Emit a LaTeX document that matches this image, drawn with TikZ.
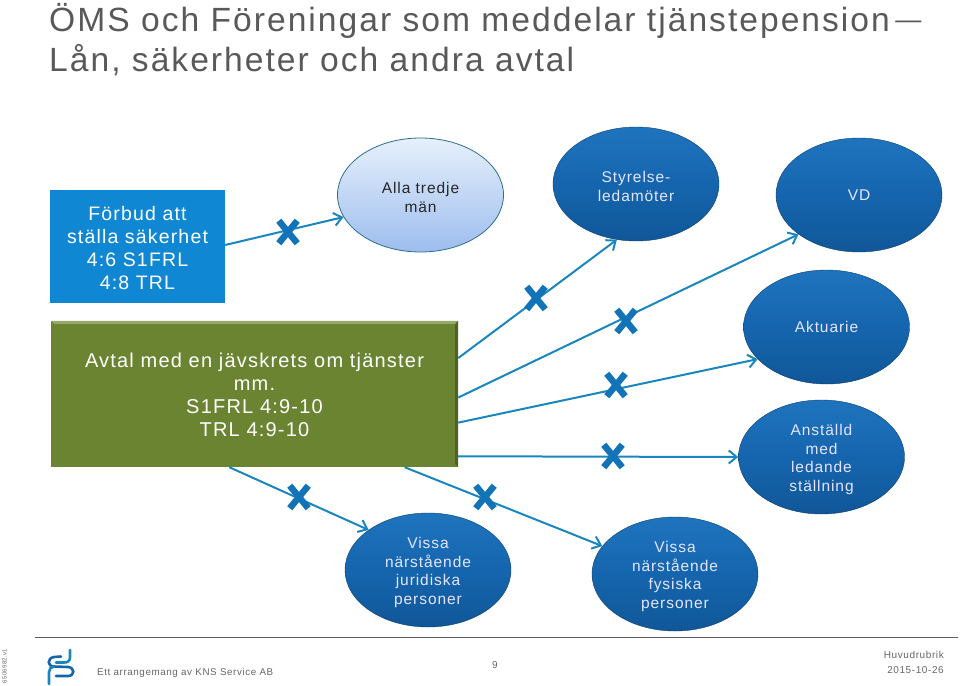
\documentclass[tikz,border=0pt]{standalone}
\usepackage{fontspec}
\setmainfont[LetterSpace=6]{Liberation Sans}
\usetikzlibrary{arrows.meta,shapes.geometric,shapes.misc}
\definecolor{linkblue}{HTML}{1A86BE}
\definecolor{crossblue}{HTML}{1273B8}
\definecolor{darkblue}{HTML}{1565AE}
\definecolor{lightblue}{HTML}{1F74BE}
\definecolor{deepblue}{HTML}{105798}
\definecolor{rimblue}{HTML}{0E3F70}
\definecolor{paletop}{HTML}{E6F0FB}
\definecolor{palebot}{HTML}{9DBDEE}
\definecolor{palerim}{HTML}{2C6E8F}
\definecolor{rectblue}{HTML}{0F87D2}
\definecolor{oliveg}{HTML}{6A8432}
\definecolor{footgray}{HTML}{666666}
\newcommand{\ovalgap}{\rule{0pt}{16pt}}
\newcommand{\boxgap}{\rule{0pt}{17pt}}
\tikzset{
  darkoval/.style={ellipse,draw=rimblue,top color=lightblue,bottom color=deepblue,middle color=darkblue,minimum width=166pt,minimum height=114pt,inner sep=0pt,align=center,text=white!90!blue,font=\fontsize{15.5}{18.5}\selectfont},
  paleoval/.style={ellipse,draw=palerim,line width=.8pt,top color=paletop,bottom color=palebot,minimum width=166pt,minimum height=114pt,inner sep=0pt,align=center,text=black!85,font=\fontsize{15.5}{18.5}\selectfont},
  link/.style={draw=linkblue,line width=2pt,-{Straight Barb[length=8pt,width=13pt]}},
  xmark/.style={cross out,draw=crossblue,line width=6.5pt,minimum width=12pt,minimum height=16pt,inner sep=0pt},
  foot/.style={text=footgray,font=\fontsize{10}{14.5}\selectfont,inner sep=0pt},
}
\begin{document}
\begin{tikzpicture}[x=1pt,y=-1pt]
\useasboundingbox (0,0) rectangle (960,685);
\node[anchor=north west,align=left,inner sep=0pt,text=black!65,font=\fontsize{33.6}{40}\selectfont] (title) at (49,3) {ÖMS och Föreningar som meddelar tjänstepension \kern-6pt\raisebox{3pt}{\fontsize{26}{40}\selectfont ---}\\Lån, säkerheter och andra avtal};
% boxes
\node[fill=rectblue,minimum width=175pt,minimum height=113pt,inner sep=0pt,align=center,text=white,font=\fontsize{19.5}{23}\selectfont] (forbud) at (137.5,246.5) {\boxgap Förbud att\\ställa säkerhet\\4:6 S1FRL\\4:8 TRL};
\node[fill=oliveg,minimum width=407pt,minimum height=146pt,inner sep=0pt,align=center,text=white,font=\fontsize{20}{23}\selectfont] (avtal) at (254.5,394) {\boxgap Avtal med en jävskrets om tjänster\\mm.\\S1FRL 4:9-10\\TRL 4:9-10};
\fill[oliveg!70!white] (avtal.north west) -- (avtal.north east) -- ++(-3,3) -- ++(-401,0) -- cycle;
\fill[oliveg!75!black] (avtal.north east) -- (avtal.south east) -- ++(-3,-3) -- ++(0,-140) -- cycle;
% ovals
\node[paleoval] (alla) at (420.5,195) {\ovalgap Alla tredje\\män};
\node[darkoval] (styrelse) at (636,184) {\ovalgap Styrelse-\\ledamöter};
\node[darkoval] (vd) at (859,195) {VD};
\node[darkoval] (aktuarie) at (826.5,327) {Aktuarie};
\node[darkoval] (anstalld) at (821.5,457) {\ovalgap Anställd\\med\\ledande\\ställning};
\node[darkoval] (juridiska) at (428,570) {\ovalgap Vissa\\närstående\\juridiska\\personer};
\node[darkoval] (fysiska) at (675,574) {\ovalgap Vissa\\närstående\\fysiska\\personer};
% connectors
\draw[link] (forbud.1) -- (alla.196.5);
\draw[link] (avtal.10.9) -- (styrelse.251);
\draw[link] (avtal.-1.8) -- (vd.213.7);
\draw[link] (avtal.-8.5) -- (aktuarie.205);
\draw[link] (avtal.-17.3) -- (anstalld.180);
\draw[link] (avtal.251.4) -- (juridiska.146.3);
\draw[link] (avtal.-26.3) -- (fysiska.159.4);
% crosses
\node[xmark] (xa) at (288,232) {};
\node[xmark] (xb) at (536,298) {};
\node[xmark] (xc) at (626,321) {};
\node[xmark] (xd) at (616,385) {};
\node[xmark] (xe) at (613,456) {};
\node[xmark] (xf) at (299,497) {};
\node[xmark] (xg) at (485,497) {};
% footer
\draw[footgray!90!black,line width=1pt] (35,637) -- (958,637);
\node[foot,rotate=90,font=\fontsize{6}{7}\selectfont] (docnr) at (4.5,666) {6506982.v1};
\draw[line width=2.6pt,draw=darkblue,line cap=round] (61,656.5) -- (54,657) .. controls (47,658) and (47,666.5) .. (54,666.5) -- (68,667) .. controls (75,667.5) and (75,676) .. (68,676) -- (56,676);
\draw[line width=2.6pt,draw=linkblue,line cap=round] (70,650) -- (70,657) .. controls (70,661) and (68,662.5) .. (64,662.5) -- (56,662.5);
\draw[line width=2.6pt,draw=linkblue,line cap=round] (49,684) -- (49,672) .. controls (49,669) and (51,667) .. (54,666.5);
\node[foot,anchor=west,font=\fontsize{9.8}{12}\selectfont] (ett) at (97,672.5) {Ett arrangemang av KNS Service AB};
\node[foot] (sida) at (495,665.5) {9};
\node[foot,anchor=east,align=right] (huvud) at (944,662.5) {Huvudrubrik\\2015-10-26};
\end{tikzpicture}
\end{document}
